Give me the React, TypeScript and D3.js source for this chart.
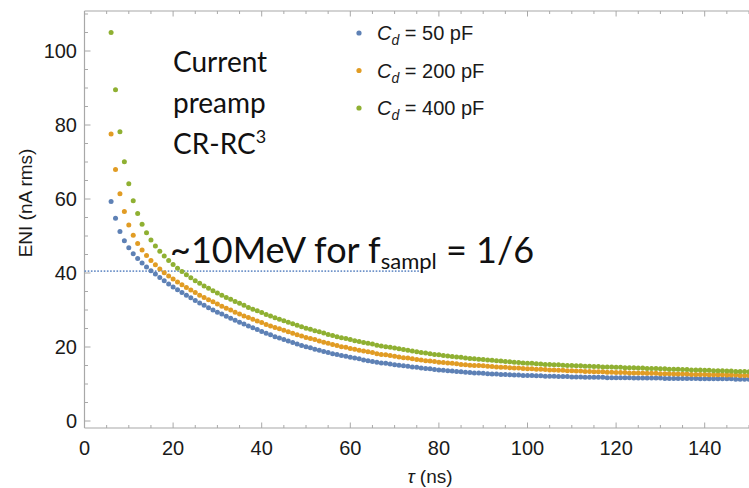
import React from "react";
import * as d3 from "d3";

const TAU = [6,7,8,9,10,11,12,13,14,15,16,17,18,19,20,21,22,23,24,25,26,27,28,29,30,31,32,33,34,35,36,37,38,39,40,41,42,43,44,45,46,47,48,49,50,51,52,53,54,55,56,57,58,59,60,61,62,63,64,65,66,67,68,69,70,71,72,73,74,75,76,77,78,79,80,81,82,83,84,85,86,87,88,89,90,91,92,93,94,95,96,97,98,99,100,101,102,103,104,105,106,107,108,109,110,111,112,113,114,115,116,117,118,119,120,121,122,123,124,125,126,127,128,129,130,131,132,133,134,135,136,137,138,139,140,141,142,143,144,145,146,147,148,149,150];

const ENI_50 = [
59.3,54.8,51.2,48.7,46.8,45.2,43.9,42.7,41.6,40.6,
39.7,38.8,37.9,37.0,36.2,35.5,34.7,34.0,33.3,32.6,
31.9,31.3,30.6,30.0,29.4,28.9,28.3,27.8,27.2,26.7,
26.2,25.7,25.2,24.7,24.2,23.7,23.3,22.8,22.4,22.0,
21.6,21.2,20.8,20.4,20.1,19.8,19.4,19.1,18.8,18.5,
18.2,18.0,17.7,17.5,17.2,17.0,16.8,16.5,16.3,16.1,
15.9,15.7,15.6,15.4,15.2,15.1,14.9,14.8,14.6,14.5,
14.3,14.2,14.1,13.9,13.8,13.7,13.6,13.5,13.4,13.3,
13.2,13.1,13.0,13.0,12.9,12.8,12.7,12.7,12.6,12.6,
12.5,12.4,12.4,12.3,12.3,12.3,12.2,12.2,12.1,12.1,
12.1,12.0,12.0,12.0,11.9,11.9,11.9,11.8,11.8,11.8,
11.8,11.8,11.7,11.7,11.7,11.7,11.7,11.7,11.6,11.6,
11.6,11.6,11.6,11.6,11.6,11.5,11.5,11.5,11.5,11.5,
11.5,11.5,11.5,11.4,11.4,11.4,11.4,11.4,11.4,11.4,
11.4,11.3,11.3,11.3,11.3];

const ENI_200 = [
77.6,68.0,61.4,56.6,53.0,50.2,48.0,46.2,44.7,43.4,
42.2,41.1,40.1,39.2,38.4,37.6,36.8,36.1,35.4,34.7,
34.0,33.4,32.8,32.2,31.6,31.0,30.5,30.0,29.4,28.9,
28.4,28.0,27.5,27.0,26.6,26.1,25.7,25.3,24.9,24.5,
24.1,23.7,23.3,23.0,22.6,22.3,22.0,21.6,21.3,21.0,
20.7,20.4,20.1,19.9,19.6,19.4,19.1,18.9,18.7,18.5,
18.2,18.0,17.9,17.7,17.5,17.3,17.1,17.0,16.8,16.6,
16.5,16.3,16.2,16.1,15.9,15.8,15.7,15.6,15.5,15.3,
15.2,15.1,15.0,15.0,14.9,14.8,14.7,14.6,14.5,14.5,
14.4,14.3,14.3,14.2,14.1,14.1,14.0,14.0,13.9,13.8,
13.8,13.7,13.7,13.6,13.6,13.5,13.5,13.4,13.4,13.3,
13.3,13.3,13.2,13.2,13.1,13.1,13.1,13.0,13.0,13.0,
13.0,12.9,12.9,12.9,12.8,12.8,12.8,12.7,12.7,12.7,
12.7,12.6,12.6,12.6,12.6,12.5,12.5,12.5,12.5,12.4,
12.4,12.4,12.3,12.3,12.3];

const ENI_400 = [
105.0,89.5,78.2,70.1,64.1,59.5,56.1,53.2,50.9,48.9,
47.3,45.9,44.6,43.4,42.3,41.3,40.4,39.5,38.7,37.9,
37.2,36.5,35.9,35.2,34.6,34.0,33.4,32.9,32.3,31.8,
31.3,30.7,30.2,29.8,29.3,28.8,28.4,27.9,27.5,27.1,
26.7,26.3,25.9,25.5,25.1,24.8,24.4,24.1,23.8,23.4,
23.1,22.8,22.5,22.3,22.0,21.7,21.5,21.2,21.0,20.8,
20.5,20.3,20.1,19.9,19.7,19.5,19.3,19.1,18.9,18.7,
18.5,18.4,18.2,18.0,17.9,17.7,17.6,17.4,17.3,17.2,
17.0,16.9,16.8,16.7,16.6,16.5,16.4,16.3,16.2,16.1,
16.0,15.9,15.8,15.7,15.6,15.6,15.5,15.4,15.3,15.3,
15.2,15.2,15.1,15.0,15.0,14.9,14.9,14.8,14.8,14.7,
14.7,14.6,14.6,14.6,14.5,14.5,14.4,14.4,14.4,14.3,
14.3,14.2,14.2,14.2,14.1,14.1,14.0,14.0,14.0,13.9,
13.9,13.8,13.8,13.8,13.7,13.7,13.6,13.6,13.6,13.5,
13.5,13.4,13.4,13.4,13.3];

const SERIES_LABELS = ["50 pF", "200 pF", "400 pF"];
const SERIES_COLORS = ["#5e81b5", "#e19c24", "#8fb032"];
const X_TICKS = [0, 20, 40, 60, 80, 100, 120, 140];
const Y_TICKS = [0, 20, 40, 60, 80, 100];
const THRESHOLD = 40.5;
const THRESHOLD_END_TAU = 75.6;

const W = 749;
const H = 488;

export default function App() {
  const x = d3.scaleLinear().domain([0, 150]).range([84.5, 749]);
  const y = d3.scaleLinear().domain([0, 100]).range([421, 51]);
  const plotTop = 11;
  const plotBottom = 428;
  const plotLeft = 84.5;
  const plotRight = 749;
  const axisColor = "#a8a8a8";
  const series = [ENI_50, ENI_200, ENI_400];

  const xMinor = d3.range(0, 151, 5);
  const yMinor = d3.range(0, 111, 5);

  const tickFont = "Liberation Sans, Arial, sans-serif";
  const annFont = "Lato, 'Open Sans', sans-serif";

  return (
    <svg width={W} height={H} style={{ position: "absolute", left: 0, top: 0, background: "#fff" }}>
      <rect x={0} y={0} width={W} height={H} fill="#fff" />
      <line x1={plotLeft} x2={plotRight} y1={plotBottom} y2={plotBottom} stroke={axisColor} strokeWidth={1.2} />
      <line x1={plotLeft} x2={plotRight} y1={plotTop} y2={plotTop} stroke={axisColor} strokeWidth={1.2} />
      <line x1={plotLeft} x2={plotLeft} y1={plotTop} y2={plotBottom} stroke={axisColor} strokeWidth={1.2} />
      {xMinor.map((t) => {
        const major = t % 20 === 0;
        const len = major ? 5.5 : 3;
        return (
          <g key={"xt" + t}>
            <line x1={x(t)} x2={x(t)} y1={plotBottom} y2={plotBottom - len} stroke={axisColor} strokeWidth={1} />
            <line x1={x(t)} x2={x(t)} y1={plotTop} y2={plotTop + len} stroke={axisColor} strokeWidth={1} />
          </g>
        );
      })}
      {yMinor.map((t) => {
        const major = t % 20 === 0;
        const len = major ? 6 : 3.5;
        return (
          <line key={"yt" + t} x1={plotLeft} x2={plotLeft + len} y1={y(t)} y2={y(t)} stroke={axisColor} strokeWidth={1} />
        );
      })}
      {X_TICKS.map((t) => (
        <text key={"xl" + t} x={x(t)} y={455} textAnchor="middle" fontFamily={tickFont} fontSize={20} fill="#1a1a1a">
          {t}
        </text>
      ))}
      {Y_TICKS.map((t) => (
        <text key={"yl" + t} x={77} y={y(t)} dy="0.35em" textAnchor="end" fontFamily={tickFont} fontSize={20} fill="#1a1a1a">
          {t}
        </text>
      ))}
      <text x={430} y={483} textAnchor="middle" fontFamily={tickFont} fontSize={19} fill="#1a1a1a">
        <tspan fontStyle="italic">τ</tspan> (ns)
      </text>
      <text transform="translate(32,203) rotate(-90)" textAnchor="middle" fontFamily={tickFont} fontSize={19} fill="#1a1a1a">
        ENI (nA rms)
      </text>
      <line x1={plotLeft} x2={x(THRESHOLD_END_TAU)} y1={y(THRESHOLD)} y2={y(THRESHOLD)} stroke="#6f93c9" strokeWidth={1.6} strokeDasharray="1.6,1.6" />
      {series.map((vals, si) => (
        <g key={"s" + si} fill={SERIES_COLORS[si]}>
          {vals.map((v, i) => (
            <circle key={i} cx={x(TAU[i])} cy={y(v)} r={2.5} />
          ))}
        </g>
      ))}
      {SERIES_LABELS.map((lab, i) => {
        const ly = 33 + i * 37.5;
        return (
          <g key={"lg" + i}>
            <circle cx={359} cy={ly} r={2.6} fill={SERIES_COLORS[i]} />
            <text x={377} y={ly} dy="0.35em" fontFamily={tickFont} fontSize={20} fill="#1a1a1a">
              <tspan fontStyle="italic">C</tspan>
              <tspan fontStyle="italic" fontSize={14} dy={5}>d</tspan>
              <tspan dy={-5}> = {lab}</tspan>
            </text>
          </g>
        );
      })}
      <g fontFamily={annFont} fontSize={28} fill="#111">
        <text x={173} y={72}>Current</text>
        <text x={173} y={113}>preamp</text>
        <text x={173} y={154}>
          CR-RC<tspan fontSize={18} dy={-11}>3</tspan>
        </text>
      </g>
      <text x={170} y={263} fontFamily={annFont} fontSize={36} fill="#111">
        ~10MeV for f<tspan fontSize={22} dy={6}>sampl</tspan>
        <tspan dy={-6}> = 1/6</tspan>
      </text>
    </svg>
  );
}
